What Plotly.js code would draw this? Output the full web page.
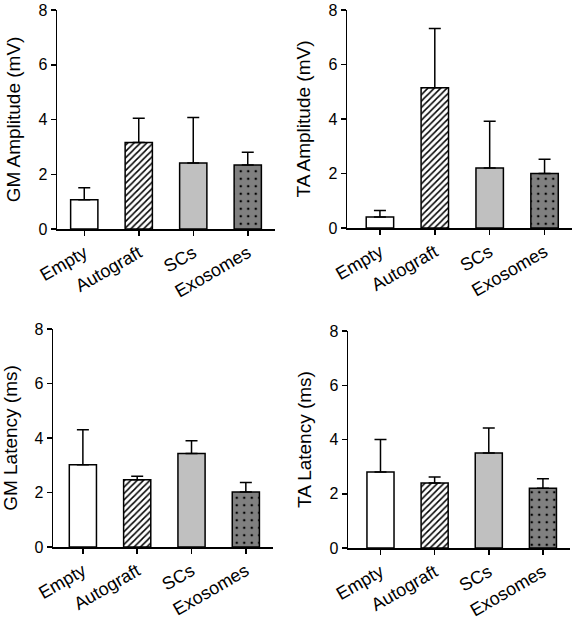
<!DOCTYPE html>
<html>
<head>
<meta charset="utf-8">
<script src="https://cdn.plot.ly/plotly-3.0.1.min.js"></script>
<style>html,body{margin:0;padding:0;background:#fff;}#chart{width:576px;height:619px;}</style>
</head>
<body>
<div id="chart"></div>
<script>
var categories = ["Empty", "Autograft", "SCs", "Exosomes"];
var yTicks = [0, 2, 4, 6, 8];

var gmAmpMean = [1.07, 3.16, 2.41, 2.34];
var gmAmpErr  = [0.44, 0.89, 1.66, 0.46];
var taAmpMean = [0.40, 5.15, 2.20, 2.00];
var taAmpErr  = [0.24, 2.17, 1.72, 0.52];
var gmLatMean = [3.02, 2.47, 3.43, 2.02];
var gmLatErr  = [1.28, 0.13, 0.47, 0.35];
var taLatMean = [2.80, 2.40, 3.50, 2.20];
var taLatErr  = [1.20, 0.22, 0.92, 0.35];

var titles = ["GM Amplitude (mV)", "TA Amplitude (mV)", "GM Latency (ms)", "TA Latency (ms)"];

var bgColors = ["#ffffff", "#ffffff", "#c0c0c0", "#808080"];
var shapes = ["", "/", "", "."];
var sizes = [8, 4.5, 8, 7.5];
var solidities = [0.2, 0.33, 0.2, 0.09];

var panels = [
  {mean: gmAmpMean, err: gmAmpErr},
  {mean: taAmpMean, err: taAmpErr},
  {mean: gmLatMean, err: gmLatErr},
  {mean: taLatMean, err: taLatErr}
];

var W = 576, H = 619;
// pixel boxes [x0, x1, yTop, yBottom]
var boxes = [
  [57, 275, 10, 229],
  [347, 572, 10, 228],
  [53, 273, 329, 547],
  [348, 570, 331, 548]
];
var xRanges = [[-0.5, 3.5], [-0.6, 3.5], [-0.55, 3.5], [-0.6, 3.5]];

var font = "Liberation Sans, Arial, sans-serif";
var data = [];
var layout = {
  width: W, height: H,
  margin: {l: 0, r: 0, t: 0, b: 0},
  paper_bgcolor: "#fff", plot_bgcolor: "#fff",
  showlegend: false,
  barmode: "overlay",
  font: {family: font, color: "#000"}
};

panels.forEach(function(p, i) {
  var sfx = i === 0 ? "" : String(i + 1);
  categories.forEach(function(cat, j) {
    var marker = {
      color: bgColors[j],
      opacity: 1,
      line: {color: "#000", width: 1.5}
    };
    if (shapes[j]) {
      marker.pattern = {
        shape: shapes[j],
        fillmode: "replace",
        bgcolor: bgColors[j],
        fgcolor: "#000",
        fgopacity: 1,
        size: sizes[j],
        solidity: solidities[j]
      };
    }
    data.push({
      type: "bar",
      x: [cat],
      y: [p.mean[j]],
      xaxis: "x" + sfx,
      yaxis: "y" + sfx,
      width: 0.5,
      marker: marker,
      error_y: {
        type: "data",
        symmetric: false,
        array: [p.err[j]],
        arrayminus: [0],
        color: "#000",
        thickness: 1.5,
        width: 6
      },
      hoverinfo: "none"
    });
  });
  var b = boxes[i];
  layout["xaxis" + sfx] = {
    domain: [b[0] / W, b[1] / W],
    anchor: "y" + sfx,
    type: "category",
    categoryarray: categories,
    categoryorder: "array",
    range: xRanges[i],
    showline: true, linecolor: "#000", linewidth: 1.5,
    ticks: "outside", ticklen: 5, tickwidth: 1.5, tickcolor: "#000",
    tickangle: -30,
    tickfont: {family: font, size: 18, color: "#000"},
    showgrid: false, zeroline: false, fixedrange: true
  };
  layout["yaxis" + sfx] = {
    domain: [1 - b[3] / H, 1 - b[2] / H],
    anchor: "x" + sfx,
    range: [0, 8],
    tickvals: yTicks,
    showline: true, linecolor: "#000", linewidth: 1.5,
    ticks: "outside", ticklen: 5, tickwidth: 1.5, tickcolor: "#000",
    tickfont: {family: font, size: 16, color: "#000"},
    title: {text: titles[i], font: {family: font, size: 19, color: "#000"}, standoff: 12},
    showgrid: false, zeroline: false, fixedrange: true
  };
});

Plotly.newPlot("chart", data, layout, {displayModeBar: false, staticPlot: true});
</script>
</body>
</html>
